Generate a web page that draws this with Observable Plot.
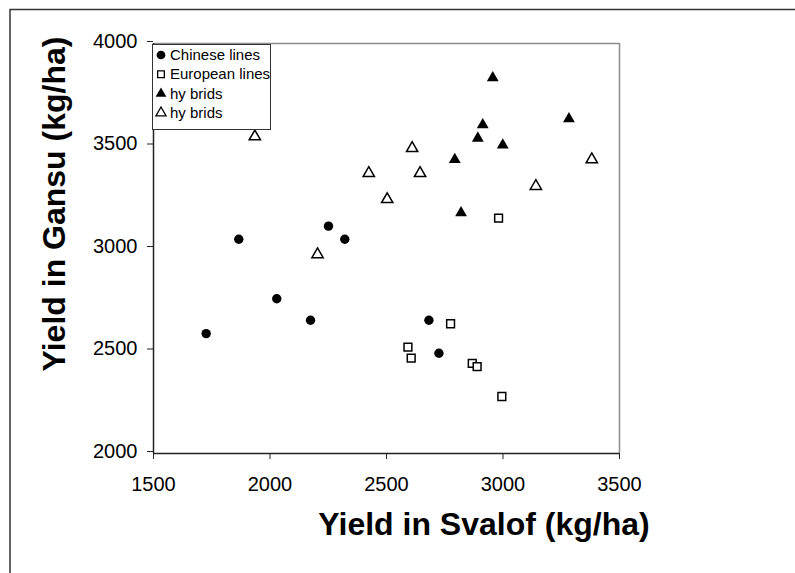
<!DOCTYPE html>
<html>
<head>
<meta charset="utf-8">
<script src="https://cdn.jsdelivr.net/npm/d3@7"></script>
<script src="https://cdn.jsdelivr.net/npm/@observablehq/plot@0.6"></script>
<style>
  html, body { margin: 0; padding: 0; background: #fff; }
  svg { display: block; }
</style>
</head>
<body>
<div id="chart"></div>
<script>
// ---- data ----
const seriesNames = ["Chinese lines", "European lines", "hy brids", "hy brids"];

const chineseX = [1726, 1866, 2029, 2174, 2251, 2321, 2682, 2725];
const chineseY = [2585, 3045, 2755, 2650, 3109, 3045, 2650, 2489];

const europeanX = [2981, 2775, 2592, 2606, 2868, 2889, 2995];
const europeanY = [3148, 2633, 2519, 2465, 2440, 2424, 2278];

const hybridsFilledX = [2956, 3283, 2913, 2892, 2999, 2793, 2820];
const hybridsFilledY = [3833, 3633, 3603, 3538, 3505, 3434, 3174];

const hybridsOpenX = [1935, 2204, 2424, 2503, 2610, 2644, 3141, 3381];
const hybridsOpenY = [3546, 2971, 3367, 3240, 3489, 3367, 3304, 3434];

const xTicks = [1500, 2000, 2500, 3000, 3500];
const yTicks = [2000, 2500, 3000, 3500, 4000];
const xLabel = "Yield in Svalof (kg/ha)";
const yLabel = "Yield in Gansu (kg/ha)";

const toRows = (xs, ys) => xs.map((x, i) => ({x, y: ys[i]}));
const chinese = toRows(chineseX, chineseY);
const european = toRows(europeanX, europeanY);
const hybFilled = toRows(hybridsFilledX, hybridsFilledY);
const hybOpen = toRows(hybridsOpenX, hybridsOpenY);

const FONT = "'Liberation Sans', Arial, Helvetica, sans-serif";

const svg = Plot.plot({
  width: 795,
  height: 573,
  marginLeft: 153,
  marginRight: 176,
  marginTop: 43,
  marginBottom: 120,
  style: {fontFamily: FONT, color: "#000", background: "#fff", overflow: "visible"},
  x: {domain: [1500, 3500]},
  y: {domain: [2000, 4000]},
  marks: [
    Plot.ruleY([4000], {stroke: "#8c8c8c", strokeWidth: 1.5}),
    Plot.ruleX([3500], {stroke: "#8c8c8c", strokeWidth: 1.5}),
    Plot.axisX({ticks: xTicks, tickSize: 6, tickPadding: 17, fontSize: 20, label: null, stroke: "#222", tickFormat: d => String(d)}),
    Plot.axisY({ticks: yTicks, tickSize: 6, tickPadding: 10, fontSize: 20, label: null, stroke: "#222", dy: -2, tickFormat: d => String(d)}),
    Plot.ruleX([1500], {stroke: "#222", strokeWidth: 1.5}),
    Plot.ruleY([2000], {stroke: "#222", strokeWidth: 1.5}),
    Plot.dot(chinese, {x: "x", y: "y", symbol: "circle", r: 4.7, fill: "#000"}),
    Plot.dot(european, {x: "x", y: "y", symbol: "square", r: 4.4, fill: "#fff", stroke: "#000", strokeWidth: 1.5}),
    Plot.dot(hybFilled, {x: "x", y: "y", symbol: "triangle", r: 4.4, fill: "#000"}),
    Plot.dot(hybOpen, {x: "x", y: "y", symbol: "triangle", r: 4.2, fill: "#fff", stroke: "#000", strokeWidth: 1.5})
  ]
});

const s = d3.select(svg);

// outer figure border (only top and left visible)
s.append("path")
  .attr("d", "M10,573V9.5H795")
  .attr("fill", "none")
  .attr("stroke", "#333")
  .attr("stroke-width", 1.5);

// axis titles
s.append("text")
  .attr("x", 484).attr("y", 535)
  .attr("text-anchor", "middle")
  .attr("font-family", FONT)
  .attr("font-weight", "bold")
  .attr("font-size", 32)
  .attr("fill", "#000")
  .text(xLabel);

s.append("text")
  .attr("transform", "translate(65,204) rotate(-90)")
  .attr("text-anchor", "middle")
  .attr("font-family", FONT)
  .attr("font-weight", "bold")
  .attr("font-size", 32)
  .attr("fill", "#000")
  .text(yLabel);

// legend box
const lg = s.append("g").attr("text-anchor", "start");
lg.append("rect")
  .attr("x", 152.5).attr("y", 44.5)
  .attr("width", 118).attr("height", 85)
  .attr("fill", "#fff")
  .attr("stroke", "#333")
  .attr("stroke-width", 1);

const legendItems = [
  {name: seriesNames[0], sym: d3.symbolCircle, size: 60, fill: "#000", stroke: "none"},
  {name: seriesNames[1], sym: d3.symbolSquare, size: 45, fill: "#fff", stroke: "#000"},
  {name: seriesNames[2], sym: d3.symbolTriangle, size: 50, fill: "#000", stroke: "none"},
  {name: seriesNames[3], sym: d3.symbolTriangle, size: 45, fill: "#fff", stroke: "#000"}
];
legendItems.forEach((it, i) => {
  const cy = 55 + i * 19.3;
  lg.append("path")
    .attr("transform", `translate(161,${cy})`)
    .attr("d", d3.symbol(it.sym, it.size)())
    .attr("fill", it.fill)
    .attr("stroke", it.stroke)
    .attr("stroke-width", 1.3);
  lg.append("text")
    .attr("x", 170).attr("y", cy + 5)
    .attr("text-anchor", "start")
    .attr("font-family", FONT)
    .attr("font-size", 15)
    .attr("fill", "#000")
    .text(it.name);
});

document.getElementById("chart").appendChild(svg);
</script>
</body>
</html>
